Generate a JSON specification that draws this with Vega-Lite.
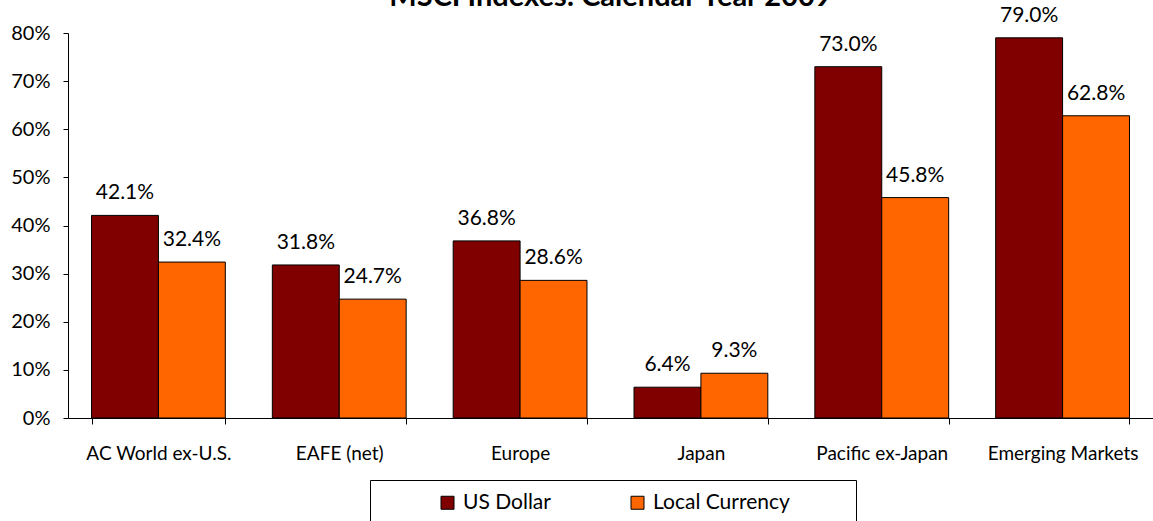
{
  "$schema": "https://vega.github.io/schema/vega-lite/v6.json",
  "autosize": {"type": "none"},
  "padding": {"left": 68, "top": 33, "right": 0, "bottom": 103},
  "width": 1085,
  "height": 385,
  "title": {"text": "MSCI Indexes: Calendar Year 2009", "fontSize": 29, "fontWeight": "bold", "offset": -7, "anchor": "middle", "color": "black"},
  "data": {"values": [
    {"index": "AC World ex-U.S.", "currency": "US Dollar", "value": 0.421},
    {"index": "AC World ex-U.S.", "currency": "Local Currency", "value": 0.324},
    {"index": "EAFE (net)", "currency": "US Dollar", "value": 0.318},
    {"index": "EAFE (net)", "currency": "Local Currency", "value": 0.247},
    {"index": "Europe", "currency": "US Dollar", "value": 0.368},
    {"index": "Europe", "currency": "Local Currency", "value": 0.286},
    {"index": "Japan", "currency": "US Dollar", "value": 0.064},
    {"index": "Japan", "currency": "Local Currency", "value": 0.093},
    {"index": "Pacific ex-Japan", "currency": "US Dollar", "value": 0.730},
    {"index": "Pacific ex-Japan", "currency": "Local Currency", "value": 0.458},
    {"index": "Emerging Markets", "currency": "US Dollar", "value": 0.790},
    {"index": "Emerging Markets", "currency": "Local Currency", "value": 0.628}
  ]},
  "encoding": {
    "x": {"field": "index", "type": "nominal", "sort": null, "title": null,
      "scale": {"paddingInner": 0.26, "paddingOuter": 0.13},
      "axis": {"tickBand": "extent", "labelAngle": 0, "tickSize": 6, "labelPadding": 20, "labelFontSize": 19, "labelColor": "black", "domainColor": "black", "tickColor": "black", "labelLimit": 300}},
    "xOffset": {"field": "currency", "type": "nominal", "sort": ["US Dollar", "Local Currency"]},
    "y": {"field": "value", "type": "quantitative", "title": null,
      "scale": {"domain": [0, 0.8], "nice": false},
      "axis": {"values": [0, 0.1, 0.2, 0.3, 0.4, 0.5, 0.6, 0.7, 0.8], "format": ".0%", "grid": false, "tickSize": 5, "labelPadding": 13, "labelFontSize": 20, "labelColor": "black", "domainColor": "black", "tickColor": "black"}}
  },
  "layer": [
    {"mark": {"type": "bar", "stroke": "black", "strokeWidth": 1},
     "encoding": {
       "color": {"field": "currency", "type": "nominal", "sort": ["US Dollar", "Local Currency"],
         "scale": {"domain": ["US Dollar", "Local Currency"], "range": ["#800000", "#FF6600"]},
         "legend": {"orient": "none", "legendX": 302, "legendY": 447, "direction": "horizontal",
           "title": "\u00a0", "titleOrient": "left", "titleFontSize": 11, "titlePadding": 55, "strokeColor": "black", "padding": 12,
           "labelFontSize": 21, "labelColor": "black", "labelOffset": 5, "columnPadding": 76, "labelLimit": 400,
           "symbolType": "square", "symbolSize": 169, "symbolStrokeColor": "black", "symbolStrokeWidth": 1, "symbolOpacity": 1,
           "labelExpr": "indexof(datum.value, 'Local') >= 0 ? datum.label + '\u00a0\u00a0\u00a0\u00a0\u00a0\u00a0\u00a0\u00a0\u00a0\u00a0\u200b' : datum.label"}}
     }},
    {"mark": {"type": "text", "baseline": "alphabetic", "dy": -16, "fontSize": 21, "color": "black"},
     "encoding": {"text": {"field": "value", "type": "quantitative", "format": ".1%"}}}
  ],
  "config": {"font": "Lato", "view": {"stroke": null}}
}
